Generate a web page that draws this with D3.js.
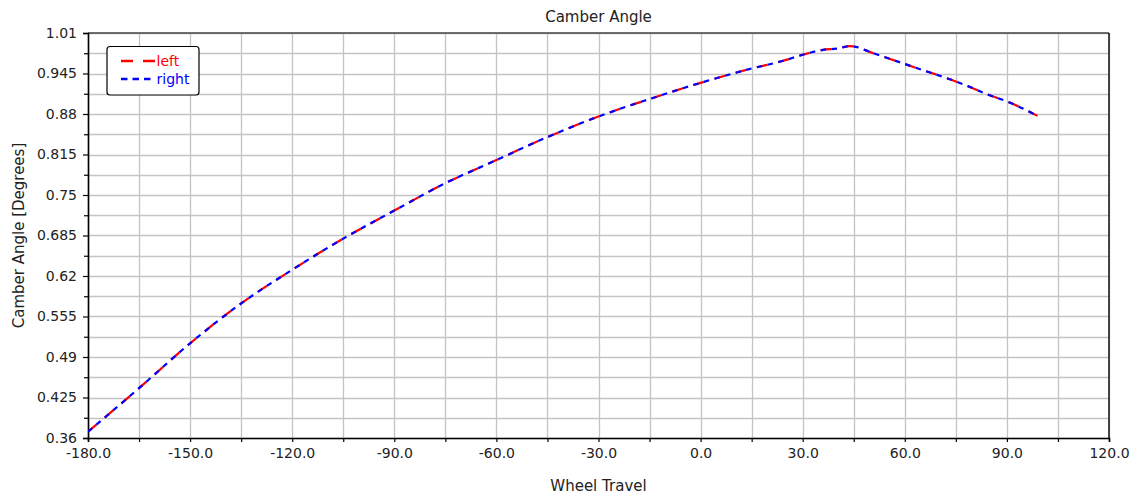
<!DOCTYPE html>
<html>
<head>
<meta charset="utf-8">
<script src="https://cdn.jsdelivr.net/npm/d3@7"></script>
<style>
  html, body { margin: 0; padding: 0; background: #fff; }
  svg { display: block; font-family: "DejaVu Sans", sans-serif; }
</style>
</head>
<body>
<svg id="chart" width="1138" height="495"></svg>
<script>
const wheelTravel = [-180, -165, -150, -135, -120, -105, -90, -75, -60, -45, -30, -15, 0, 15, 24, 30, 36, 40, 44, 51, 58, 65, 71, 78, 84, 91, 99];
const camberLeft  = [0.370, 0.440, 0.512, 0.576, 0.630, 0.680, 0.725, 0.769, 0.806, 0.843, 0.876, 0.904, 0.930, 0.953, 0.965, 0.975, 0.983, 0.985, 0.989, 0.977, 0.964, 0.951, 0.940, 0.926, 0.912, 0.898, 0.877];
const camberRight = [0.370, 0.440, 0.512, 0.576, 0.630, 0.680, 0.725, 0.769, 0.806, 0.843, 0.876, 0.904, 0.930, 0.953, 0.965, 0.975, 0.983, 0.985, 0.989, 0.977, 0.964, 0.951, 0.940, 0.926, 0.912, 0.898, 0.877];
const xMajorTicks = [-180, -150, -120, -90, -60, -30, 0, 30, 60, 90, 120];
const yMajorTicks = [0.36, 0.425, 0.49, 0.555, 0.62, 0.685, 0.75, 0.815, 0.88, 0.945, 1.01];
const seriesNames = ["left", "right"];
const seriesColors = ["#ff0000", "#0000ff"];

const svg = d3.select("#chart");
const L = 88, R = 1109, T = 33, B = 438;
const x = d3.scaleLinear().domain([-180, 120]).range([L, R]);
const y = d3.scaleLinear().domain([0.36, 1.01]).range([B, T]);

// minor ticks halfway between majors
const xMinor = [];
for (let i = 0; i < xMajorTicks.length - 1; i++) xMinor.push((xMajorTicks[i] + xMajorTicks[i + 1]) / 2);
const yMinor = [];
for (let i = 0; i < yMajorTicks.length - 1; i++) yMinor.push(+((yMajorTicks[i] + yMajorTicks[i + 1]) / 2).toFixed(4));
const xAll = xMajorTicks.concat(xMinor);
const yAll = yMajorTicks.concat(yMinor);

// grid
const grid = svg.append("g").attr("stroke", "#c4c4c4").attr("stroke-width", 1.3);
grid.selectAll("line.gx").data(xAll).join("line")
  .attr("x1", d => Math.round(x(d)) + 0.5).attr("x2", d => Math.round(x(d)) + 0.5)
  .attr("y1", T).attr("y2", B);
grid.selectAll("line.gy").data(yAll).join("line")
  .attr("y1", d => Math.round(y(d)) + 0.5).attr("y2", d => Math.round(y(d)) + 0.5)
  .attr("x1", L).attr("x2", R);

// frame top/right
svg.append("line").attr("x1", L).attr("x2", R).attr("y1", T).attr("y2", T).attr("stroke", "#444").attr("stroke-width", 1.5);
svg.append("line").attr("x1", R).attr("x2", R).attr("y1", T).attr("y2", B).attr("stroke", "#111").attr("stroke-width", 1.5);

// axes
const xAxis = d3.axisBottom(x).tickValues(xMajorTicks).tickFormat(d => d.toFixed(1)).tickSizeOuter(0).tickSize(4).tickPadding(6);
svg.append("g").attr("transform", `translate(0,${B})`).call(xAxis);
const xAxisMinor = d3.axisBottom(x).tickValues(xMinor).tickFormat("").tickSizeOuter(0).tickSize(4);
svg.append("g").attr("transform", `translate(0,${B})`).call(xAxisMinor).select(".domain").remove();

const yFmt = d => String(+d.toFixed(4));
const yAxis = d3.axisLeft(y).tickValues(yMajorTicks).tickFormat(yFmt).tickSizeOuter(0).tickSize(5).tickPadding(6);
svg.append("g").attr("transform", `translate(${L},0)`).call(yAxis);
const yAxisMinor = d3.axisLeft(y).tickValues(yMinor).tickFormat("").tickSizeOuter(0).tickSize(4);
svg.append("g").attr("transform", `translate(${L},0)`).call(yAxisMinor).select(".domain").remove();

svg.selectAll(".domain").attr("stroke", "#000").attr("stroke-width", 1.6);
svg.selectAll(".tick line").attr("stroke", "#000").attr("stroke-width", 1.2);
svg.selectAll(".tick text").attr("font-family", "DejaVu Sans").attr("font-size", 14).attr("fill", "#222");

// clip
svg.append("clipPath").attr("id", "plotclip").append("rect")
  .attr("x", L).attr("y", T).attr("width", R - L).attr("height", B - T);

const line = d3.line().x(d => x(d[0])).y(d => y(d[1])).curve(d3.curveMonotoneX);
const plot = svg.append("g").attr("clip-path", "url(#plotclip)");
plot.append("path").datum(wheelTravel.map((v, i) => [v, camberLeft[i]]))
  .attr("d", line).attr("fill", "none").attr("stroke", seriesColors[0]).attr("stroke-width", 2.2)
  .attr("stroke-dasharray", "11,11");
plot.append("path").datum(wheelTravel.map((v, i) => [v, camberRight[i]]))
  .attr("d", line).attr("fill", "none").attr("stroke", seriesColors[1]).attr("stroke-width", 2.2)
  .attr("stroke-dasharray", "5.5,5.5");

// title & labels
svg.append("text").attr("x", (L + R) / 2).attr("y", 22).attr("text-anchor", "middle")
  .attr("font-size", 15).attr("fill", "#222").text("Camber Angle");
svg.append("text").attr("x", (L + R) / 2).attr("y", 491).attr("text-anchor", "middle")
  .attr("font-size", 15).attr("fill", "#222").text("Wheel Travel");
svg.append("text").attr("transform", `translate(23.5,${(T + B) / 2}) rotate(-90)`).attr("text-anchor", "middle")
  .attr("font-size", 15).attr("fill", "#222").text("Camber Angle [Degrees]");

// legend
const lg = svg.append("g");
lg.append("rect").attr("x", 107).attr("y", 46.5).attr("width", 92).attr("height", 48.5).attr("rx", 3).attr("ry", 3)
  .attr("fill", "#fff").attr("stroke", "#000").attr("stroke-width", 1.2);
const legendY = [61, 79];
const legendDash = ["12,10", "6.5,5"];
seriesNames.forEach((name, i) => {
  lg.append("line").attr("x1", 121).attr("x2", 155).attr("y1", legendY[i]).attr("y2", legendY[i])
    .attr("stroke", seriesColors[i]).attr("stroke-width", 2.5).attr("stroke-dasharray", legendDash[i]);
  lg.append("text").attr("x", 156.5).attr("y", legendY[i] + 5).attr("font-size", 14)
    .attr("fill", seriesColors[i]).text(name);
});
</script>
</body>
</html>
